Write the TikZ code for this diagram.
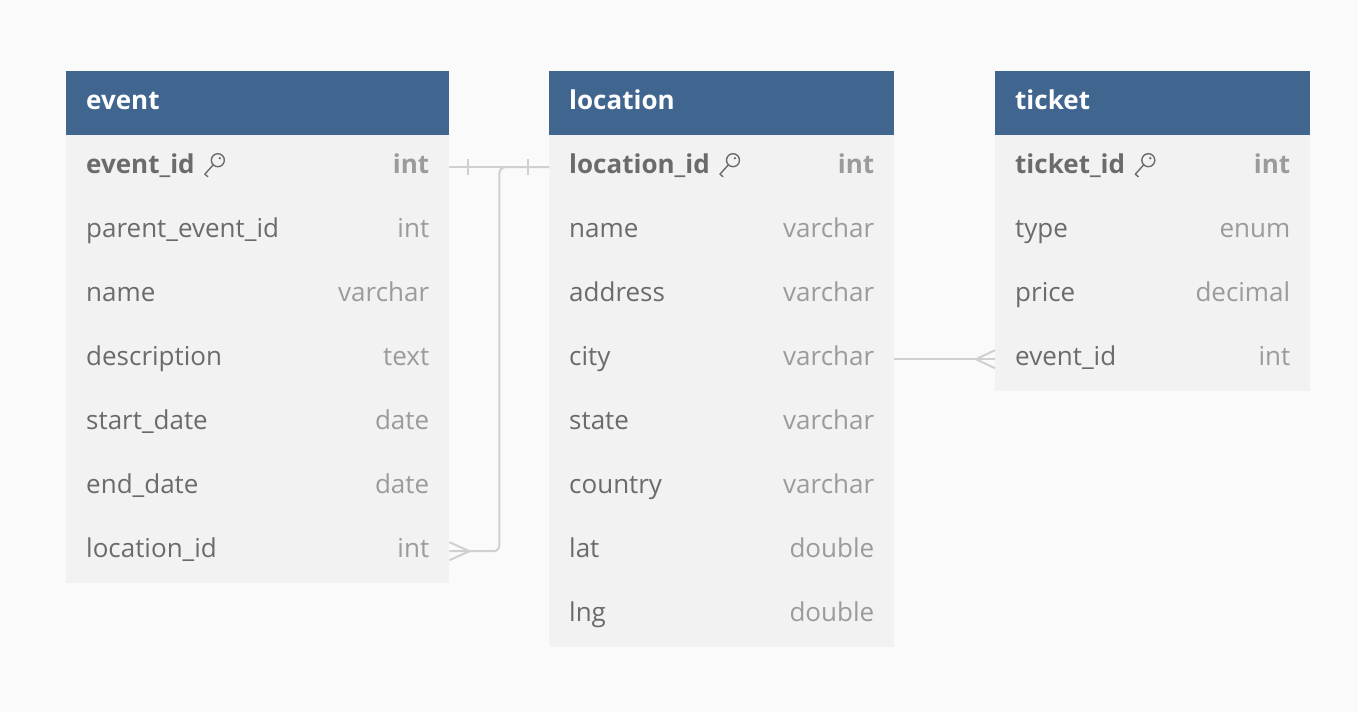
\documentclass[tikz,border=0pt]{standalone}
\usepackage{fontspec}
\setmainfont{Open Sans}
\usepackage{tikz}
\usetikzlibrary{positioning}

\definecolor{headblue}{HTML}{40658F}
\definecolor{rowgray}{HTML}{F2F2F2}
\definecolor{pagegray}{HTML}{FAFAFA}
\definecolor{fieldtext}{HTML}{6B6B6B}
\definecolor{typetext}{HTML}{9B9B9B}
\definecolor{linkgray}{HTML}{D0D0D0}

\tikzset{
	header/.style = {fill = headblue, anchor = north west, minimum height = 64pt, inner xsep = 20pt, inner ysep = 0pt,
		align = left, text = white, text height = 19pt, text depth = 6pt, font = \fontsize{26}{31}\selectfont\bfseries},
	tablerow/.style = {fill = rowgray, anchor = north west, minimum height = 64pt, inner sep = 0pt},
	field/.style = {inner sep = 0pt, text height = 19pt, text depth = 6pt, text = fieldtext, font = \fontsize{26}{31}\selectfont},
	ftype/.style = {field, text = typetext},
	keyfield/.style = {field, font = \fontsize{26}{31}\selectfont\bfseries},
	keytype/.style = {ftype, font = \fontsize{26}{31}\selectfont\bfseries},
	link/.style = {draw = linkgray, line width = 2pt},
	keyicon/.pic = {
		\draw[fieldtext, line width = 1.4pt] (23,-7) circle (6.5);
		\draw[fieldtext, line width = 1.4pt, line cap = round, line join = round] (18.5,-2.5) -- (10,7) -- (13,9.5);
		\fill[fieldtext] (25,-9) circle (1.3);
	}
}

\begin{document}
\begin{tikzpicture}[x = 1pt, y = -1pt]

\fill[pagegray] (0,0) rectangle (1358,712);
\useasboundingbox (0,0) rectangle (1358,712);

% event
\node[header, text width = 343pt] (event) at (66,71) {event};
\node[tablerow, minimum width = 383pt] (event-1) at (66,135) {};
\node[keyfield, right = 20pt of event-1.west] (event-1n) {event\_id};
\node[keytype, left = 20pt of event-1.east] (event-1t) {int};
\pic at (event-1n.east) {keyicon};
\foreach \f/\t [count = \i from 2] in {parent\_event\_id/int, name/varchar, description/text, start\_date/date, end\_date/date, location\_id/int}
{
	\node[tablerow, minimum width = 383pt] (event-\i) at (66,{71+64*\i}) {};
	\node[field, right = 20pt of event-\i.west] (event-\i n) {\f};
	\node[ftype, left = 20pt of event-\i.east] (event-\i t) {\t};
}

% location
\node[header, text width = 305pt] (location) at (549,71) {location};
\node[tablerow, minimum width = 345pt] (location-1) at (549,135) {};
\node[keyfield, right = 20pt of location-1.west] (location-1n) {location\_id};
\node[keytype, left = 20pt of location-1.east] (location-1t) {int};
\pic at (location-1n.east) {keyicon};
\foreach \f/\t [count = \i from 2] in {name/varchar, address/varchar, city/varchar, state/varchar, country/varchar, lat/double, lng/double}
{
	\node[tablerow, minimum width = 345pt] (location-\i) at (549,{71+64*\i}) {};
	\node[field, right = 20pt of location-\i.west] (location-\i n) {\f};
	\node[ftype, left = 20pt of location-\i.east] (location-\i t) {\t};
}

% ticket
\node[header, text width = 275pt] (ticket) at (995,71) {ticket};
\node[tablerow, minimum width = 315pt] (ticket-1) at (995,135) {};
\node[keyfield, right = 20pt of ticket-1.west] (ticket-1n) {ticket\_id};
\node[keytype, left = 20pt of ticket-1.east] (ticket-1t) {int};
\pic at (ticket-1n.east) {keyicon};
\foreach \f/\t [count = \i from 2] in {type/enum, price/decimal, event\_id/int}
{
	\node[tablerow, minimum width = 315pt] (ticket-\i) at (995,{71+64*\i}) {};
	\node[field, right = 20pt of ticket-\i.west] (ticket-\i n) {\f};
	\node[ftype, left = 20pt of ticket-\i.east] (ticket-\i t) {\t};
}

% links
\draw[link] (event-1.east) -- (location-1.west);
\draw[link] (event-1.east) ++(19,-8) -- ++(0,16);
\draw[link] (location-1.west) ++(-21,-8) -- ++(0,16);

\draw[link, rounded corners = 6pt] (event-7.east) -- ++(50,0) |- (location-1.west);
\draw[link] (event-7.east) ++(0,-9) -- ++(20,9) -- ++(-20,9);

\draw[link] (location-4.east) -- (ticket-4.west);
\draw[link] (ticket-4.west) ++(0,-9) -- ++(-19,9) -- ++(19,9);

\end{tikzpicture}
\end{document}
